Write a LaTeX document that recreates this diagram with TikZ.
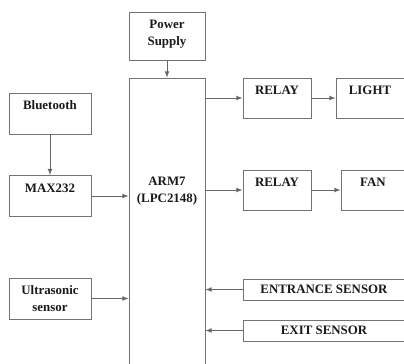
\documentclass[tikz,border=0pt]{standalone}
\usepackage{fontspec}
\setmainfont{Liberation Serif}
\usepackage{tikz}

\begin{document}
\begin{tikzpicture}[x=0.03cm, y=-0.03cm, >=latex,
        every node/.style={font=\bfseries\fontsize{11}{14}\selectfont, text=black!90, align=center},
        blk/.style={draw=black!55, line width=0.8pt, inner sep=0pt},
        up/.style={text depth=0.48cm},
        conn/.style={->, draw=black!60, line width=0.8pt}]
        \clip (0,0) rectangle (404,363);
        \node[blk, up, text depth=0.2cm, minimum width=2.28cm, minimum height=1.44cm] (psu) at (167,36) {Power\\Supply};
        \node[blk, minimum width=2.28cm, minimum height=8.91cm] (arm) at (167,226.5) {};
        \node (armtext) at (167,191) {ARM7\\(LPC2148)};
        \node[blk, up, minimum width=2.46cm, minimum height=1.23cm] (bt) at (50,113.5) {Bluetooth};
        \node[blk, up, minimum width=2.46cm, minimum height=1.23cm] (max) at (50,196) {MAX232};
        \node[blk, minimum width=2.46cm, minimum height=1.23cm] (us) at (50,298.5) {Ultrasonic\\sensor};
        \node[blk, up, minimum width=2.04cm, minimum height=1.2cm] (rly1) at (277,98) {RELAY};
        \node[blk, up, minimum width=2.04cm, minimum height=1.2cm] (light) at (370,98) {LIGHT};
        \node[blk, up, minimum width=2.04cm, minimum height=1.2cm] (rly2) at (277,190) {RELAY};
        \node[blk, up, minimum width=1.92cm, minimum height=1.2cm] (fan) at (373,190) {FAN};
        \node[blk, minimum width=4.86cm, minimum height=0.63cm] (ent) at (324,289.5) {ENTRANCE SENSOR};
        \node[blk, minimum width=4.86cm, minimum height=0.63cm] (ext) at (324,330.5) {EXIT SENSOR};
        \draw[conn] (psu) -- (arm);
        \draw[conn] (bt) -- (max);
        \draw[conn] (max) -- (max -| arm.west);
        \draw[conn] (us) -- (us -| arm.west);
        \draw[conn] (arm.east |- rly1) -- (rly1);
        \draw[conn] (rly1) -- (light);
        \draw[conn] (arm.east |- rly2) -- (rly2);
        \draw[conn] (rly2) -- (fan);
        \draw[conn] (ent) -- (ent -| arm.east);
        \draw[conn] (ext) -- (ext -| arm.east);
    \end{tikzpicture}
\end{document}
